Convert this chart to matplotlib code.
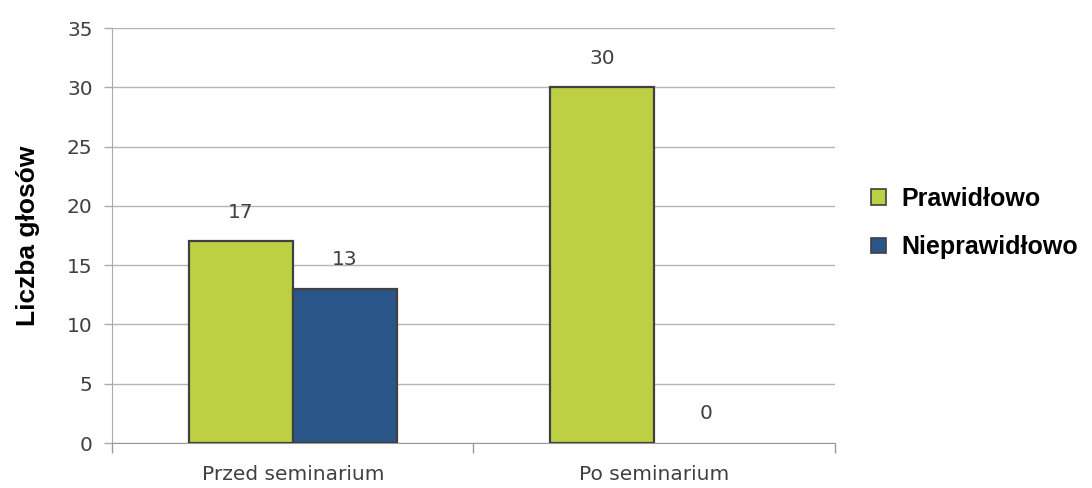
import matplotlib.pyplot as plt
import numpy as np
from matplotlib.patches import Patch

categories = ["Przed seminarium", "Po seminarium"]
series_names = ["Prawidłowo", "Nieprawidłowo"]
correct = [17, 30]
incorrect = [13, 0]

GREEN = "#BDD043"
BLUE = "#2A5588"
EDGE = "#404040"
TEXT = "#404040"

plt.rcParams["font.family"] = ["DejaVu Sans"]

fig = plt.figure(figsize=(10.92, 4.88), dpi=100)
ax = fig.add_axes([0.1026, 0.0922, 0.662, 0.8504])

x = np.arange(len(categories))
w = 0.287
b1 = ax.bar(x - w / 2, correct, w, color=GREEN, edgecolor=EDGE, linewidth=1.6, zorder=3)
b2 = ax.bar(x + w / 2, incorrect, w, color=BLUE, edgecolor=EDGE, linewidth=1.6, zorder=3)

for bars in (b1, b2):
    for rect in bars:
        h = rect.get_height()
        if h == 0:
            rect.set_linewidth(0)
        ax.annotate(f"{h:g}", (rect.get_x() + rect.get_width() / 2, h),
                    xytext=(0, 21), textcoords="offset points",
                    ha="center", va="center", fontsize=14.5, color=TEXT)

ax.set_xlim(-0.5, 1.5)
ax.set_ylim(0, 35)
ax.set_yticks(range(0, 36, 5))
ax.set_xticks([-0.5, 0.5, 1.5], minor=False)
ax.set_xticklabels([])
ax.set_xticks(x, minor=True)
ax.set_xticklabels(categories, minor=True)
ax.tick_params(axis="x", which="minor", length=0, pad=16, labelsize=14.5, labelcolor=TEXT)
ax.tick_params(axis="x", which="major", length=7, color="#999999", width=1)
ax.tick_params(axis="y", length=6, color="#aaaaaa", width=1, labelsize=14.5, labelcolor=TEXT, pad=8)

ax.yaxis.grid(True, color="#b4b4b4", linewidth=1, zorder=0)
for s in ("top", "right"):
    ax.spines[s].set_visible(False)
ax.spines["left"].set_color("#aaaaaa")
ax.spines["bottom"].set_color("#999999")

ax.set_ylabel("Liczba głosów", fontsize=19, fontweight="bold", labelpad=19,
              family=["Liberation Sans", "DejaVu Sans"])

handles = [Patch(facecolor=GREEN, edgecolor=EDGE, linewidth=1.2),
           Patch(facecolor=BLUE, edgecolor=EDGE, linewidth=1.2)]
fig.legend(handles, series_names, loc="center left", bbox_to_anchor=(0.777, 0.543),
           frameon=False, prop={"size": 18, "weight": "bold", "family": ["Liberation Sans", "DejaVu Sans"]},
           handlelength=0.6, handleheight=0.6, handletextpad=0.6, labelspacing=0.98)

fig.savefig("out.png", dpi=100)
